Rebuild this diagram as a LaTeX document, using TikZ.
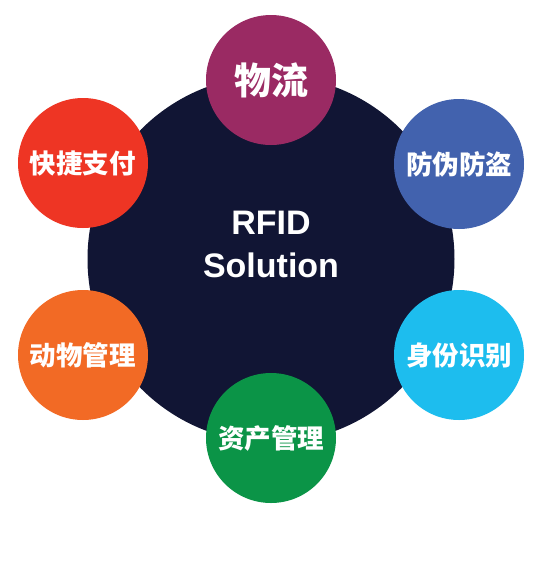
\documentclass[tikz,border=0pt]{standalone}
\usepackage{fontspec}
\setmainfont{Liberation Sans}
\newfontfamily\cjk{Noto Sans CJK SC}
\definecolor{darkbg}{HTML}{111534}
\definecolor{cpurple}{HTML}{9A2A63}
\definecolor{cred}{HTML}{EE3524}
\definecolor{cblue}{HTML}{4262AE}
\definecolor{corange}{HTML}{F26A25}
\definecolor{ccyan}{HTML}{1DBDEE}
\definecolor{cgreen}{HTML}{0B9447}
\begin{document}
\begin{tikzpicture}[x=1pt,y=-1pt,
  sat/.style={circle,minimum size=130pt,inner sep=0pt,text=white,font=\cjk\bfseries\fontsize{26.5}{26.5}\selectfont},
  hub/.style={circle,fill=darkbg,minimum size=367pt,inner sep=0pt},
  hubtext/.style={text=white,align=center,inner sep=0pt,font=\bfseries\fontsize{34}{43}\selectfont}]
\useasboundingbox (0,0) rectangle (540,582);
\fill[white] (0,0) rectangle (540,582);
\node[hub] (hub) at (271,259) {};
\node[hubtext] (title) at (271,244) {RFID\\Solution};
\node[sat,fill=cpurple,font=\cjk\bfseries\fontsize{37}{37}\selectfont] (wl) at (271,80) {物流};
\node[sat,fill=cred] (zf) at (83,163) {快捷支付};
\node[sat,fill=cblue] (fd) at (459,164) {防伪防盗};
\node[sat,fill=corange] (dw) at (83,355) {动物管理};
\node[sat,fill=ccyan] (sf) at (459,355) {身份识别};
\node[sat,fill=cgreen] (zc) at (271,438) {资产管理};
\end{tikzpicture}
\end{document}
